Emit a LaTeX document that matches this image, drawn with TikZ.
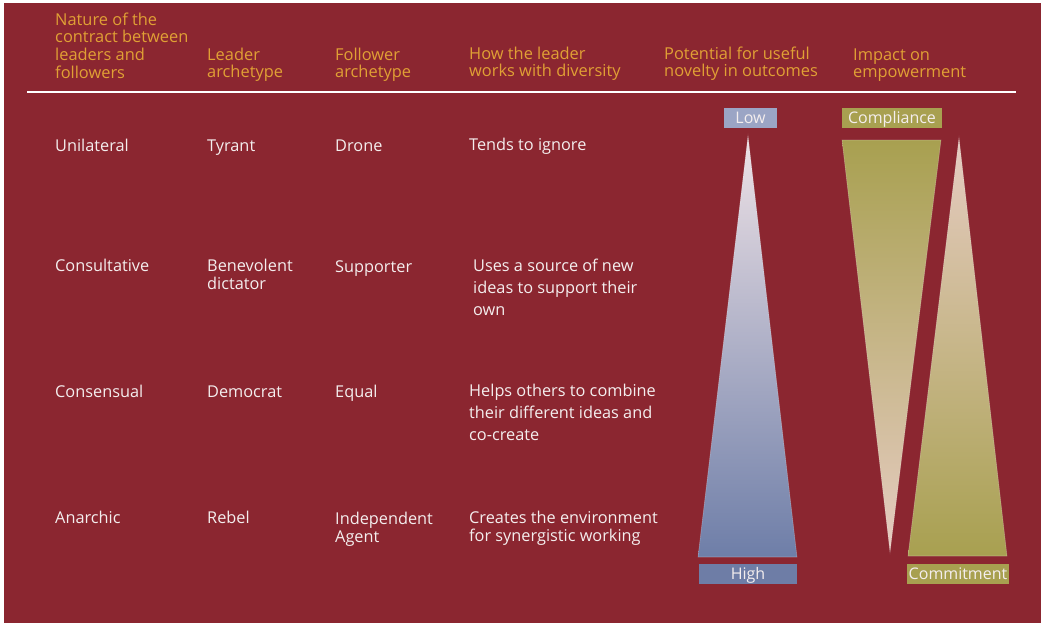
\documentclass[tikz,border=0pt]{standalone}
\usepackage{fontspec}
\setmainfont{Open Sans}
\definecolor{bg}{HTML}{8B2630}
\definecolor{gold}{HTML}{E0A035}
\definecolor{wtxt}{HTML}{F4EEEE}
\definecolor{lowc}{HTML}{9BA5C5}
\definecolor{highc}{HTML}{6E7DA6}
\definecolor{blueTop}{HTML}{EEE2E6}
\definecolor{blueBot}{HTML}{6E7EA8}
\definecolor{olivec}{HTML}{A8A050}
\definecolor{pinkc}{HTML}{E6CCC2}
\newcommand\mylines[1]{\begin{tabular}[t]{@{}l@{}}#1\end{tabular}}
\tikzset{
  head/.style={anchor=base west, inner sep=0pt, text=gold, font=\fontsize{16.4}{17.6}\selectfont},
  cell/.style={anchor=base west, inner sep=0pt, text=wtxt, font=\fontsize{16.3}{18}\selectfont},
  cellwide/.style={anchor=base west, inner sep=0pt, text=wtxt, font=\fontsize{16.3}{22}\selectfont},
  lbl/.style={inner sep=0pt, text=wtxt, font=\fontsize{16}{18}\selectfont, minimum height=20pt, text height=12pt, text depth=2pt}
}
\begin{document}
\begin{tikzpicture}[x=1pt,y=-1pt]
\useasboundingbox (0,0) rectangle (1043,625);
\fill[white] (0,0) rectangle (1043,625);
\fill[bg] (4,3) rectangle (1041,623);
% header
\node[head] (h1) at (55,25) {\mylines{Nature of the\\contract between\\leaders and\\followers}};
\node[head] (h2) at (207,60) {\mylines{Leader\\archetype}};
\node[head] (h3) at (335,60) {\mylines{Follower\\archetype}};
\node[head] (h4) at (469,59) {\mylines{How the leader\\works with diversity}};
\node[head] (h5) at (664,59) {\mylines{Potential for useful\\novelty in outcomes}};
\node[head] (h6) at (853,60) {\mylines{Impact on\\empowerment}};
\draw[white, line width=2pt] (27,92) -- (1016,92);
% row 1
\node[cell] (r1a) at (55,151) {Unilateral};
\node[cell] (r1b) at (207,151) {Tyrant};
\node[cell] (r1c) at (335,151) {Drone};
\node[cell] (r1d) at (469,150) {Tends to ignore};
% row 2
\node[cell] (r2a) at (55,271) {Consultative};
\node[cell] (r2b) at (207,271) {\mylines{Benevolent\\dictator}};
\node[cell] (r2c) at (335,272) {Supporter};
\node[cellwide] (r2d) at (473,271) {\mylines{Uses a source of new\\ideas to support their\\own}};
% row 3
\node[cell] (r3a) at (55,397) {Consensual};
\node[cell] (r3b) at (207,397) {Democrat};
\node[cell] (r3c) at (335,397) {Equal};
\node[cellwide] (r3d) at (469,396) {\mylines{Helps others to combine\\their different ideas and\\co-create}};
% row 4
\node[cell] (r4a) at (55,523) {Anarchic};
\node[cell] (r4b) at (207,523) {Rebel};
\node[cell] (r4c) at (335,524) {\mylines{Independent\\Agent}};
\node[cell] (r4d) at (469,523) {\mylines{Creates the environment\\for synergistic working}};
% triangles
\shade[top color=blueTop, bottom color=blueBot, draw=white, draw opacity=0.25, line width=0.6pt] (748,136) -- (797,557) -- (698,557) -- cycle;
\shade[top color=olivec, bottom color=pinkc, draw=white, draw opacity=0.25, line width=0.6pt] (842,140) -- (941,140) -- (890,552) -- cycle;
\shade[top color=pinkc, bottom color=olivec, draw=white, draw opacity=0.25, line width=0.6pt] (959,138) -- (1007,556) -- (908,556) -- cycle;
% labels
\node[lbl, fill=lowc, minimum width=53pt] (low) at (750.5,118) {Low};
\node[lbl, fill=highc, minimum width=98pt] (high) at (748,574) {High};
\node[lbl, fill=olivec, minimum width=100pt] (compl) at (892,118) {Compliance};
\node[lbl, fill=olivec, minimum width=102pt] (commit) at (958,574) {Commitment};
\end{tikzpicture}
\end{document}
